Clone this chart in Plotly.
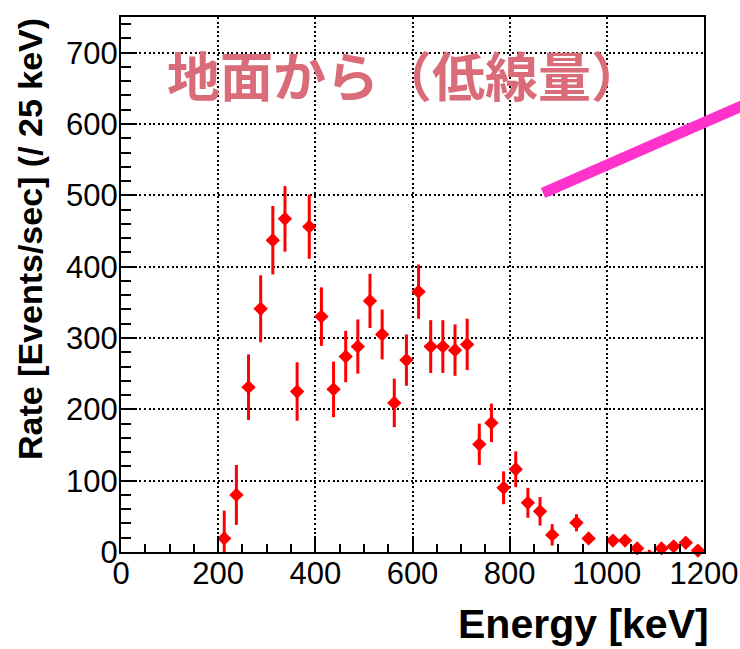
import plotly.graph_objects as go

# ---- data (bin centres in keV, rate in events/sec per 25 keV, statistical error) ----
energy = [212.5, 237.5, 262.5, 287.5, 312.5, 337.5, 362.5, 387.5, 412.5, 437.5,
          462.5, 487.5, 512.5, 537.5, 562.5, 587.5, 612.5, 637.5, 662.5, 687.5,
          712.5, 737.5, 762.5, 787.5, 812.5, 837.5, 862.5, 887.5, 937.5, 962.5,
          1012.5, 1037.5, 1062.5, 1087.5, 1112.5, 1137.5, 1162.5, 1187.5]
rate = [19, 80, 231, 341, 437, 467, 225, 456, 330, 228,
        274, 288, 352, 305, 209, 269, 365, 288, 288, 283,
        291, 151, 181, 90, 116, 69, 57, 24, 41, 19,
        16, 16, 5, -1, 5, 8, 13, 2]
rate_err = [39, 42, 46, 47, 48, 46, 41, 45, 41, 39,
            36, 38, 38, 35, 34, 36, 38, 37, 37, 36,
            36, 29, 27, 23, 25, 21, 20, 15, 12, 5,
            4, 4, 4, 4, 4, 4, 4, 4]
bin_half_width = 12.5

x_ticks = [0, 200, 400, 600, 800, 1000, 1200]
y_ticks = [0, 100, 200, 300, 400, 500, 600, 700]

title_text = "地面から（低線量）"
x_title = "Energy [keV]"
y_title = "Rate [Events/sec] (/ 25 keV)"

# ROOT does not draw error bars below the frame
err_lo = [min(e, max(r, 0)) for r, e in zip(rate, rate_err)]

fig = go.Figure()
fig.add_trace(go.Scatter(
    x=energy, y=rate, mode="markers",
    marker=dict(symbol="diamond", size=11, color="#ff0000"),
    error_y=dict(type="data", array=rate_err, arrayminus=err_lo, symmetric=False,
                 color="#ff0000", thickness=3, width=0),
    error_x=dict(type="constant", value=bin_half_width, color="#ff0000",
                 thickness=2, width=0),
    cliponaxis=False, showlegend=False,
))

axis_common = dict(
    showline=True, linecolor="black", linewidth=2, mirror=True,
    ticks="inside", tickcolor="black", tickwidth=2, ticklen=16,
    showgrid=True, gridcolor="black", gridwidth=1.5, griddash="2px,2.6px",
    zeroline=False, automargin=False,
    tickfont=dict(family="Liberation Sans, Arial, sans-serif", size=31, color="black"),
)

fig.update_xaxes(range=[0, 1200], tickvals=x_ticks, ticktext=[str(v) for v in x_ticks],
                 minor=dict(dtick=50, ticklen=8, tickcolor="black", tickwidth=2,
                            ticks="inside", showgrid=False),
                 ticklabelstandoff=-7,
                 **axis_common)
fig.update_yaxes(range=[0, 750], tickvals=y_ticks, ticktext=[str(v) for v in y_ticks],
                 minor=dict(dtick=20, ticklen=10, tickcolor="black", tickwidth=2,
                            ticks="inside", showgrid=False),
                 ticklabelstandoff=-5,
                 **axis_common)

fig.add_annotation(text=x_title, xref="paper", yref="paper", x=1.012, y=-0.135,
                   xanchor="right", yanchor="middle", showarrow=False,
                   font=dict(family="Liberation Sans, Arial, sans-serif", size=41,
                             color="black", weight="bold"))
fig.add_annotation(text=y_title, xref="paper", yref="paper", x=-0.156, y=0.585,
                   xanchor="center", yanchor="middle", textangle=-90, showarrow=False,
                   font=dict(family="Liberation Sans, Arial, sans-serif", size=34,
                             color="black", weight="bold"))
fig.add_annotation(text=title_text, xref="paper", yref="paper", x=0.076, y=0.893,
                   xanchor="left", yanchor="middle", showarrow=False,
                   font=dict(family="Noto Sans CJK JP", size=53, color="#da6b78",
                             weight="bold"))

# pink pointer stroke
fig.add_shape(type="line", xref="paper", yref="paper",
              x0=0.724, y0=0.671, x1=1.07, y1=0.836,
              line=dict(color="#ff33cc", width=11), layer="above")

fig.update_layout(
    width=740, height=649,
    margin=dict(l=121, r=36, t=17, b=97),
    paper_bgcolor="white", plot_bgcolor="white",
)

fig.write_html("out.html")
